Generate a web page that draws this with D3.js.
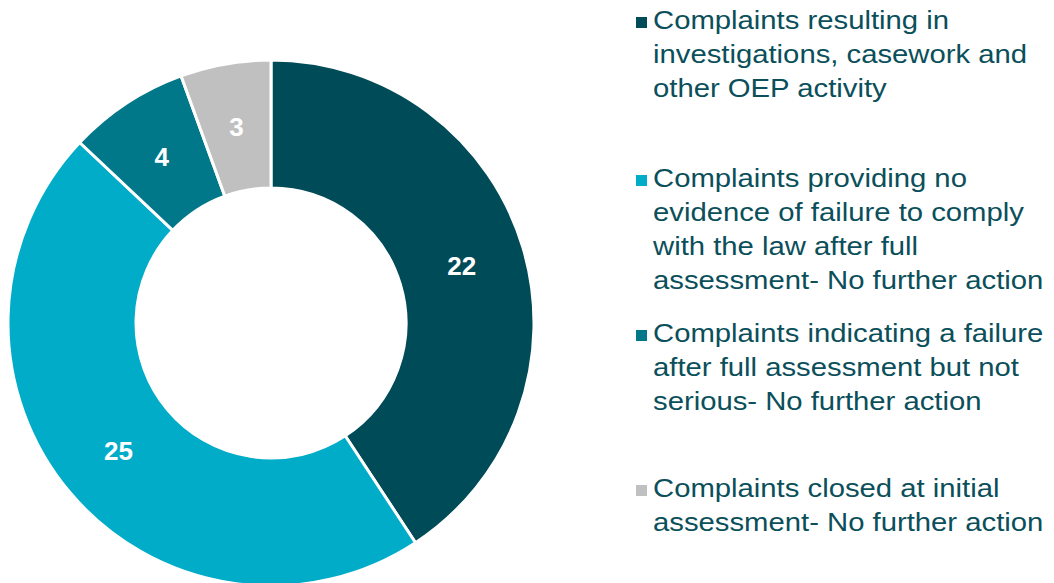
<!DOCTYPE html>
<html>
<head>
<meta charset="utf-8">
<script src="https://cdn.jsdelivr.net/npm/d3@7"></script>
<style>
  body { margin: 0; background: #fff; }
  svg { display: block; font-family: "Liberation Sans", Arial, sans-serif; }
</style>
</head>
<body>
<div id="chart"></div>
<script>
// data
var categories = [
    "Complaints resulting in investigations, casework and other OEP activity",
    "Complaints providing no evidence of failure to comply with the law after full assessment- No further action",
    "Complaints indicating a failure after full assessment but not serious- No further action",
    "Complaints closed at initial assessment- No further action"
];
var values = [22, 25, 4, 3];
var colors = ["#004b58", "#00acc8", "#007889", "#c0c0c0"];
// legend lines as wrapped in the original
var legendLines = [
    ["Complaints resulting in", "investigations, casework and", "other OEP activity"],
    ["Complaints providing no", "evidence of failure to comply", "with the law after full", "assessment- No further action"],
    ["Complaints indicating a failure", "after full assessment but not", "serious- No further action"],
    ["Complaints closed at initial", "assessment- No further action"]
];

var w = 1054, h = 583;
var cx = 271, cy = 323;
var outerR = 263, innerR = 135;

var svg = d3.select("#chart").append("svg")
    .attr("width", w)
    .attr("height", h);

var pie = d3.pie()
    .sort(null)
    .value(function(d) { return d; });

var arc = d3.arc()
    .innerRadius(innerR)
    .outerRadius(outerR);

var g = svg.append("g")
    .attr("transform", "translate(" + cx + "," + cy + ")");

var arcs = pie(values);

g.selectAll("path")
    .data(arcs)
    .enter().append("path")
    .attr("d", arc)
    .attr("fill", function(d, i) { return colors[i]; })
    .attr("stroke", "#fff")
    .attr("stroke-width", 3)
    .attr("stroke-linejoin", "miter");

g.selectAll("text.val")
    .data(arcs)
    .enter().append("text")
    .attr("class", "val")
    .attr("transform", function(d) { return "translate(" + arc.centroid(d) + ")"; })
    .attr("text-anchor", "middle")
    .attr("dy", "0.36em")
    .attr("fill", "#fff")
    .attr("font-weight", "bold")
    .attr("font-size", 26)
    .text(function(d) { return d.data; });

// legend
var legendX = 636, textX = 653, lineH = 34;
var itemY = [29, 187, 342, 497];

var leg = svg.append("g").selectAll("g")
    .data(categories)
    .enter().append("g")
    .attr("transform", function(d, i) { return "translate(0," + itemY[i] + ")"; });

leg.append("rect")
    .attr("x", legendX)
    .attr("y", -12)
    .attr("width", 11)
    .attr("height", 11)
    .attr("fill", function(d, i) { return colors[i]; });

// text in the original is a bit wider than Arial at this height
leg.append("text")
    .attr("fill", "#0b4f5b")
    .attr("font-size", 26.5)
    .attr("transform", "translate(" + textX + ",0) scale(1.105,1)")
    .selectAll("tspan")
    .data(function(d, i) { return legendLines[i]; })
    .enter().append("tspan")
    .attr("x", 0)
    .attr("y", function(d, j) { return j * lineH; })
    .text(function(d) { return d; });
</script>
</body>
</html>
